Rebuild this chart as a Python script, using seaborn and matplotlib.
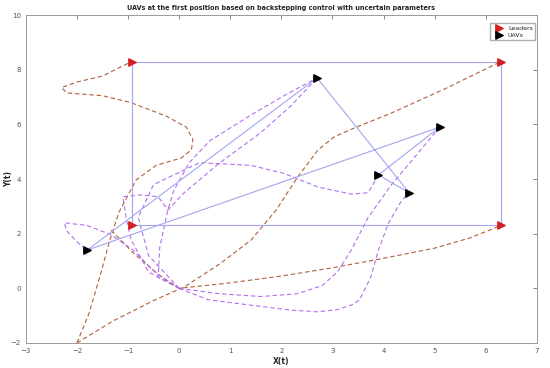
import matplotlib
matplotlib.use("Agg")
import matplotlib.pyplot as plt
import seaborn as sns

sns.set_style("white")
plt.rcParams["font.family"] = ["DejaVu Sans"]

# final positions
leader_x = [-0.93, 6.3, 6.3, -0.93]
leader_y = [8.3, 8.3, 2.3, 2.3]
uav_x = [-1.8, 2.7, 4.5, 3.9, 5.1]
uav_y = [1.4, 7.7, 3.5, 4.15, 5.9]

# leader trajectories (brown, dashed)
lead_path_1_x = [-2.0, -1.76, -1.53, -1.37, -1.18, -0.84, -0.45, 0.04, 0.24, 0.27, 0.14, -0.25, -0.95, -1.5, -2.2, -2.3, -2.0, -1.5, -0.93]
lead_path_1_y = [-2.0, -0.9, 0.57, 1.68, 2.78, 3.97, 4.5, 4.77, 5.07, 5.44, 5.9, 6.3, 6.8, 7.05, 7.15, 7.35, 7.55, 7.77, 8.3]
lead_path_2_x = [-2.0, -1.3, -0.47, 0.1, 0.8, 1.41, 1.9, 2.33, 2.72, 3.04, 3.43, 4.16, 5.2, 6.3]
lead_path_2_y = [-2.0, -1.2, -0.42, 0.05, 0.9, 1.77, 2.87, 4.1, 5.07, 5.55, 5.87, 6.42, 7.3, 8.3]
lead_path_3_x = [-1.33, -0.9, -0.4, 0.0, 1.0, 2.0, 3.0, 4.0, 5.0, 5.7, 6.3]
lead_path_3_y = [2.13, 1.3, 0.5, 0.0, 0.2, 0.45, 0.75, 1.1, 1.47, 1.85, 2.3]

# UAV trajectories (purple, dashed)
uav_path_1_x = [0.0, -0.45, -0.9, -1.33, -1.8, -2.25, -2.2, -2.0, -1.8]
uav_path_1_y = [0.0, 0.55, 1.4, 1.96, 2.3, 2.4, 2.1, 1.7, 1.4]
uav_path_2_x = [0.0, -0.41, -0.38, -0.22, -0.1, 0.2, 0.6, 1.41, 2.1, 2.7]
uav_path_2_y = [0.0, 0.4, 1.5, 2.87, 3.6, 4.6, 5.4, 6.35, 7.1, 7.7]
uav_path_3_x = [0.0, -0.6, -0.94, -1.04, -1.1, -0.75, -0.41, -0.22, 0.1, 0.8, 1.6, 2.2, 2.7]
uav_path_3_y = [0.0, 0.6, 1.78, 2.6, 3.35, 3.42, 3.35, 2.87, 3.5, 4.6, 5.7, 6.7, 7.7]
uav_path_4_x = [0.0, 0.57, 1.33, 2.15, 2.7, 3.1, 3.39, 3.53, 3.75, 3.9, 4.1, 4.35, 4.5]
uav_path_4_y = [0.0, -0.42, -0.6, -0.79, -0.86, -0.78, -0.6, -0.42, 0.4, 1.4, 2.4, 3.2, 3.5]
uav_path_5_x = [0.0, -0.6, -0.8, -0.5, 0.4, 1.41, 2.06, 2.73, 3.37, 3.7, 3.9]
uav_path_5_y = [0.0, 1.2, 2.6, 3.8, 4.6, 4.5, 4.2, 3.7, 3.45, 3.5, 4.15]
uav_path_6_x = [0.0, 0.8, 1.6, 2.3, 2.8, 3.1, 3.37, 3.7, 4.16, 4.55, 5.1]
uav_path_6_y = [0.0, -0.2, -0.3, -0.2, 0.1, 0.6, 1.4, 2.6, 3.8, 4.67, 5.9]

lead_paths = [(lead_path_1_x, lead_path_1_y), (lead_path_2_x, lead_path_2_y),
              (lead_path_3_x, lead_path_3_y)]
uav_paths = [(uav_path_1_x, uav_path_1_y), (uav_path_2_x, uav_path_2_y),
             (uav_path_3_x, uav_path_3_y), (uav_path_4_x, uav_path_4_y),
             (uav_path_5_x, uav_path_5_y), (uav_path_6_x, uav_path_6_y)]

# formation edges (index order)
uav_order = [0, 1, 2, 3, 4, 0]
leader_order = [0, 1, 2, 3, 0]

fig = plt.figure(figsize=(5.5, 3.68), dpi=100)
ax = fig.add_axes([0.047, 0.068, 0.929, 0.891])

dash = (0, (4, 2.5))
for px, py in lead_paths:
    sns.lineplot(x=px, y=py, ax=ax, sort=False, estimator=None, color="#b0603a",
                 lw=0.8, linestyle=dash)
for px, py in uav_paths:
    sns.lineplot(x=px, y=py, ax=ax, sort=False, estimator=None, color="#b46ef0",
                 lw=0.8, linestyle=dash)

edge_color = "#a4a4f2"
sns.lineplot(x=[leader_x[i] for i in leader_order], y=[leader_y[i] for i in leader_order],
             ax=ax, sort=False, estimator=None, color=edge_color, lw=0.8)
sns.lineplot(x=[uav_x[i] for i in uav_order], y=[uav_y[i] for i in uav_order],
             ax=ax, sort=False, estimator=None, color=edge_color, lw=0.8)

ax.scatter(leader_x, leader_y, marker=">", s=28, color="#d42020", zorder=5, label="Leaders")
ax.scatter(uav_x, uav_y, marker=">", s=28, color="black", zorder=5, label="UAVs")

ax.set_xlim(-3, 7)
ax.set_ylim(-2, 10)
ax.set_xticks(range(-3, 8))
ax.set_yticks(range(-2, 11, 2))
ax.tick_params(direction="in", length=3, width=0.5, labelsize=5, colors="#555555",
               top=True, right=True)
for s in ax.spines.values():
    s.set_color("#999999")
    s.set_linewidth(0.7)

ax.set_title("UAVs at the first position based on backstepping control with uncertain parameters",
             fontsize=4.7, fontweight="bold", pad=4)
ax.set_xlabel("X(t)", fontsize=5.5, fontweight="bold", labelpad=2)
ax.set_ylabel("Y(t)", fontsize=5.5, fontweight="bold", labelpad=-1.5)

ax.legend(loc="upper right", fontsize=4.5, frameon=True, fancybox=False, edgecolor="#999999",
          handletextpad=0.4, borderpad=0.4, labelspacing=0.25, markerscale=1.0,
          bbox_to_anchor=(0.997, 0.976), borderaxespad=0.0)

fig.savefig("out.png", dpi=100)
